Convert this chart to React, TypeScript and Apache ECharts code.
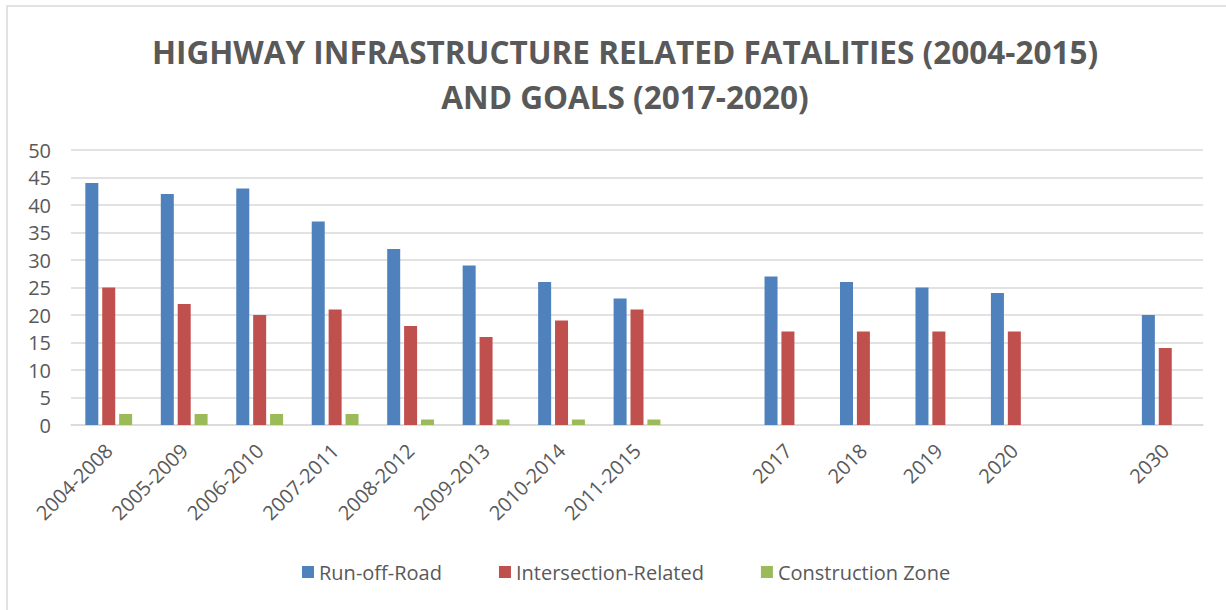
import React, { useEffect, useRef } from "react";
import * as echarts from "echarts";

const categories = ["2004-2008", "2005-2009", "2006-2010", "2007-2011", "2008-2012", "2009-2013", "2010-2014", "2011-2015", "", "2017", "2018", "2019", "2020", " ", "2030"];
const runOffRoad = [44, 42, 43, 37, 32, 29, 26, 23, null, 27, 26, 25, 24, null, 20];
const intersection = [25, 22, 20, 21, 18, 16, 19, 21, null, 17, 17, 17, 17, null, 14];
const construction = [2, 2, 2, 2, 1, 1, 1, 1, null, null, null, null, null, null, null];
const yTicks = { min: 0, max: 50, interval: 5 };

const FONT = "'Open Sans', 'Liberation Sans', sans-serif";

export default function App() {
  const ref = useRef<HTMLDivElement>(null);
  useEffect(() => {
    const chart = echarts.init(ref.current!, undefined, { renderer: "svg" });
    chart.setOption({
      animation: false,
      backgroundColor: "#ffffff",
      title: {
        text: "HIGHWAY INFRASTRUCTURE RELATED FATALITIES (2004-2015)\nAND GOALS (2017-2020)",
        left: 620,
        textAlign: "center",
        top: 24,
        textStyle: { fontFamily: FONT, fontWeight: "bold", fontSize: 31.5, color: "#595959", lineHeight: 45 },
      },
      graphic: [
        { type: "rect", shape: { x: 7, y: 6, width: 1240, height: 620 }, style: { fill: "none", stroke: "#d9d9d9", lineWidth: 1.5 }, silent: true },
      ],
      legend: {
        bottom: 23,
        left: 297,
        itemWidth: 12,
        itemHeight: 12,
        itemGap: 57,
        icon: "rect",
        textStyle: { fontFamily: FONT, fontSize: 20, color: "#595959" },
        data: ["Run-off-Road", "Intersection-Related", "Construction Zone"],
      },
      grid: { left: 71, right: 23, top: 150, bottom: 185 },
      xAxis: {
        type: "category",
        data: categories,
        axisLine: { lineStyle: { color: "#d9d9d9", width: 1.5 } },
        axisTick: { show: false },
        axisLabel: { rotate: 45, fontFamily: FONT, fontSize: 20, color: "#595959", margin: 22, interval: 0 },
      },
      yAxis: {
        type: "value",
        min: yTicks.min,
        max: yTicks.max,
        interval: yTicks.interval,
        axisLine: { show: false },
        axisTick: { show: false },
        splitLine: { lineStyle: { color: "#d9d9d9", width: 1.5 } },
        axisLabel: { fontFamily: FONT, fontSize: 20, color: "#595959", margin: 20 },
      },
      series: [
        { name: "Run-off-Road", type: "bar", data: runOffRoad, barWidth: 13, barGap: "30%", itemStyle: { color: "#4f81bd" } },
        { name: "Intersection-Related", type: "bar", data: intersection, barWidth: 13, barGap: "30%", itemStyle: { color: "#c0504d" } },
        { name: "Construction Zone", type: "bar", data: construction, barWidth: 13, barGap: "30%", itemStyle: { color: "#9bbb59" } },
      ],
    });
    return () => chart.dispose();
  }, []);
  return <div ref={ref} style={{ position: "absolute", left: 0, top: 0, width: 1226, height: 610 }} />;
}
